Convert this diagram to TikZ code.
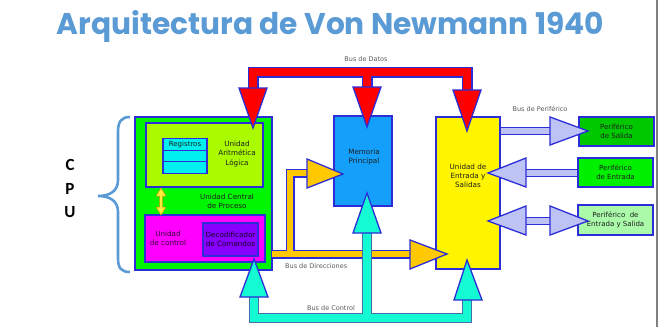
\documentclass[tikz,border=0pt]{standalone}
\usepackage{fontspec}
\setmainfont{DejaVu Sans}
\newfontfamily\titlefont{Poppins}
\newfontfamily\cpufont{Carlito}
\definecolor{bord}{RGB}{45,45,215}
\definecolor{titleblue}{RGB}{91,155,213}
\definecolor{busred}{RGB}{255,0,0}
\definecolor{cpugreen}{RGB}{0,245,0}
\definecolor{alugreen}{RGB}{170,250,0}
\definecolor{regcyan}{RGB}{0,240,240}
\definecolor{ctlmag}{RGB}{255,0,255}
\definecolor{decpurple}{RGB}{136,0,255}
\definecolor{memblue}{RGB}{20,160,250}
\definecolor{ioyellow}{RGB}{255,245,0}
\definecolor{busorange}{RGB}{255,200,0}
\definecolor{buscyan}{RGB}{20,250,210}
\definecolor{cyanedge}{RGB}{70,110,170}
\definecolor{lav}{RGB}{190,195,245}
\definecolor{psgreen}{RGB}{0,200,0}
\definecolor{pegreen}{RGB}{0,240,0}
\definecolor{pesgreen}{RGB}{170,250,170}
\definecolor{txt}{RGB}{30,30,30}
\definecolor{lbl}{RGB}{90,90,90}
\begin{document}
\begin{tikzpicture}[x=1pt,y=-1pt,
  box/.style={draw=bord, line width=1.3pt, inner sep=0pt, align=center,
    font=\fontsize{7}{9}\selectfont, text=txt},
  boxtext/.style={inner sep=0pt, align=center, font=\fontsize{7.2}{9.3}\selectfont, text=txt},
  buslabel/.style={inner sep=0pt, font=\fontsize{6.5}{8}\selectfont, text=lbl},
  tri/.style={draw=bord, line width=1.3pt, line join=miter},
  cpuletter/.style={inner sep=0pt, font=\cpufont\bfseries\fontsize{17}{17}\selectfont}]
\useasboundingbox (0,0) rectangle (661,327);
\fill[white] (0,0) rectangle (661,327);
% right frame line
\coordinate (frT) at (657,0);
\coordinate (frB) at (657,327);
\draw[gray, line width=1.3pt] (frT) -- (frB);

% title
\node[anchor=base, inner sep=0pt, text=titleblue] (title) at (330.5,34)
  {\resizebox{547pt}{24pt}{\titlefont\bfseries Arquitectura de Von Newmann 1940}};

% CPU brace and letters
\draw[titleblue, line width=2.6pt]
  (130,117) .. controls (121,117) and (118,122) .. (118,132) -- (118,180)
  .. controls (118,191) and (110,196) .. (98,196)
  .. controls (110,196) and (118,201) .. (118,212) -- (118,258)
  .. controls (118,268) and (121,272) .. (130,272);
\node[cpuletter] (cC) at (70,165) {C};
\node[cpuletter] (cP) at (70,189) {P};
\node[cpuletter] (cU) at (70,212) {U};

% boxes
\node[box, fill=cpugreen, minimum width=137pt, minimum height=153pt] (cpu) at (203.5,193.5) {};
\node[box, fill=alugreen, minimum width=117pt, minimum height=64pt] (alu) at (204.5,155) {};
\node[boxtext] (alut) at (237,154) {Unidad\\Aritmética\\Lógica};
\node[box, fill=regcyan, minimum width=44pt, minimum height=11.5pt, font=\fontsize{7}{8}\selectfont] (reg1) at (185,144.5) {Registros};
\node[box, fill=regcyan, minimum width=44pt, minimum height=11.5pt] (reg2) at (185,156) {};
\node[box, fill=regcyan, minimum width=44pt, minimum height=11.5pt] (reg3) at (185,167.5) {};
\node[boxtext] (cput) at (227,201) {Unidad Central\\de Proceso};
\node[box, fill=ctlmag, minimum width=120pt, minimum height=47pt] (ctl) at (205,238.5) {};
\node[boxtext, text=black!80!ctlmag] (ctlt) at (168,238) {Unidad\\de control};
\node[box, fill=decpurple, minimum width=55pt, minimum height=33pt, text=black!85!decpurple, font=\fontsize{7.2}{9.3}\selectfont] (dec) at (230.5,239.5) {Decodificador\\de Comandos};
\node[box, fill=memblue, minimum width=58pt, minimum height=90pt] (mem) at (363,161) {};
\node[boxtext] (memt) at (364,157) {Memoria\\Principal};
\node[box, fill=ioyellow, minimum width=64pt, minimum height=152pt] (io) at (468,193) {};
\node[boxtext] (iot) at (468,176) {Unidad de\\Entrada y\\Salidas};
\node[box, fill=psgreen, minimum width=75pt, minimum height=29pt] (ps) at (616.5,131.5) {Periférico\\de Salida};
\node[box, fill=pegreen, minimum width=75pt, minimum height=29pt] (pe) at (615.5,172.5) {Periférico\\de Entrada};
\node[box, fill=pesgreen, minimum width=75pt, minimum height=30pt] (pes) at (615.5,220) {Periférico\ \ de\\Entrada y Salida};

% ALU <-> control double arrow
\fill[fill={rgb,255:red,255;green,235;blue,60}, draw={rgb,255:red,190;green,160;blue,0}, line width=0.5pt]
  (161,188) -- (166,196) -- (162.5,196) -- (162.5,207) -- (166,207) -- (161,215)
  -- (156,207) -- (159.5,207) -- (159.5,196) -- (156,196) -- cycle;

% Bus de Datos (red)
\coordinate (dL) at (253,88);
\coordinate (dM) at (367,87);
\coordinate (dR) at (467,90);
\draw[bord, line width=11pt, line join=miter]
  (dL) -- (253,72) -- (467,72) -- (dR) (dM) -- (367,72);
\draw[busred, line width=8pt, line join=miter]
  (dL) -- (253,72) -- (467,72) -- (dR) (dM) -- (367,72);
\filldraw[tri, fill=busred] (239,88) -- (267,88) -- (253,128) -- cycle;
\filldraw[tri, fill=busred] (353,87) -- (381,87) -- (367,127) -- cycle;
\filldraw[tri, fill=busred] (453,90) -- (481,90) -- (467,131) -- cycle;
\node[buslabel] (bd) at (366,59) {Bus de Datos};

% Bus de Direcciones (orange)
\coordinate (aS) at (272,254);
\coordinate (aE) at (410,254);
\coordinate (aM) at (307,173);
\draw[bord, line width=9pt, line join=miter] (aS) -- (aE) (290,254) -- (290,173) -- (aM);
\draw[busorange, line width=6.5pt, line join=miter] (aS) -- (aE) (290,254) -- (290,173) -- (aM);
\filldraw[tri, fill=busorange] (307,159) -- (307,188) -- (343,174) -- cycle;
\filldraw[tri, fill=busorange] (410,240) -- (410,269) -- (447,254) -- cycle;
\node[buslabel, anchor=west] (bdir) at (285,266) {Bus de Direcciones};

% Bus de Control (cyan)
\coordinate (cL) at (254,297);
\coordinate (cM) at (367,233);
\coordinate (cR) at (467,300);
\draw[cyanedge, line width=10pt, line join=miter] (cL) -- (254,318) -- (467,318) -- (cR) (cM) -- (367,318);
\draw[buscyan, line width=7.5pt, line join=miter] (cL) -- (254,318) -- (467,318) -- (cR) (cM) -- (367,318);
\filldraw[tri, fill=buscyan] (240,297) -- (268,297) -- (254,259) -- cycle;
\filldraw[tri, fill=buscyan] (353,233) -- (381,233) -- (367,193) -- cycle;
\filldraw[tri, fill=buscyan] (454,300) -- (482,300) -- (467,260) -- cycle;
\node[buslabel] (bctl) at (331,308) {Bus de Control};

% Bus de Periférico (lavender)
\coordinate (p1a) at (io.east |- 0,131);
\coordinate (p1b) at (550,131);
\coordinate (p2a) at (526,173);
\coordinate (p2b) at (pe.west |- 0,173);
\coordinate (p3a) at (526,221);
\coordinate (p3b) at (550,221);
\draw[bord, line width=8pt] (p1a) -- (p1b) (p2a) -- (p2b) (p3a) -- (p3b);
\draw[lav, line width=5.5pt] (p1a) -- (p1b) (p2a) -- (p2b) (p3a) -- (p3b);
\filldraw[tri, fill=lav] (550,117) -- (550,145) -- (588,131) -- cycle;
\filldraw[tri, fill=lav] (526,158) -- (526,187) -- (488,173) -- cycle;
\filldraw[tri, fill=lav] (526,206) -- (526,235) -- (488,221) -- cycle;
\filldraw[tri, fill=lav] (550,206) -- (550,235) -- (588,221) -- cycle;
\node[buslabel] (bper) at (540,109) {Bus de Periférico};
\end{tikzpicture}
\end{document}
